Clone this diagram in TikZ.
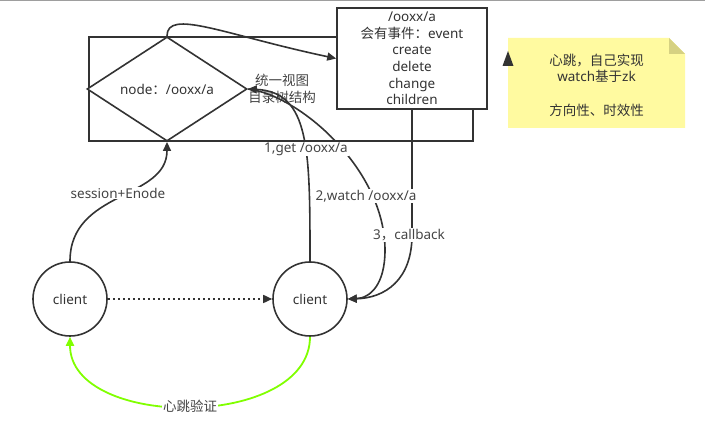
\documentclass[tikz,border=0pt]{standalone}
\usepackage{fontspec}
\setmainfont{Noto Sans}
\newfontfamily\cjk{Noto Sans CJK SC}
\usetikzlibrary{shapes.geometric,arrows.meta}
\definecolor{ln}{HTML}{333333}
\definecolor{lbltext}{HTML}{444444}
\definecolor{hb}{HTML}{80FF00}
\definecolor{notefill}{HTML}{FFFAA0}
\definecolor{notefold}{HTML}{D6D182}
\tikzset{
  shp/.style={draw=ln, line width=1.6pt, text=ln},
  edge/.style={draw=ln, line width=1.6pt, -{Triangle[length=9pt,width=8pt]}},
  lbl/.style={fill=white, inner sep=1pt, text=lbltext},
  cjkfont/.style={font=\fontsize{13.5}{16.7}\selectfont\cjk},
}
\begin{document}
\begin{tikzpicture}[x=1pt,y=-1pt,font=\fontsize{13.5}{16.7}\selectfont]
\useasboundingbox (0,0) rectangle (705,435);
\draw[black!38, line width=1.5pt] (0,0.75) -- (705,0.75);

% group rectangle
\node[shp, minimum width=384pt, minimum height=104pt, inner sep=0pt] (grp) at (281,89) {};

% view label
\node[text=lbltext, align=center, inner sep=0pt, cjkfont] (viewlbl) at (282,89) {统一视图\\目录树结构};

% event box
\node[shp, fill=white, minimum width=150pt, minimum height=101pt, inner sep=0pt, align=center] (box) at (412,58.5)
  {/ooxx/a\\{\cjk 会有事件：}event\\create\\delete\\change\\children};

% diamond
\node[shp, diamond, fill=white, minimum width=160pt, minimum height=66pt, inner sep=0pt] (dia) at (167,89)
  {node{\cjk ：}/ooxx/a};

% clients
\node[shp, circle, fill=white, minimum size=74pt, inner sep=0pt] (c1) at (70,299) {client};
\node[shp, circle, fill=white, minimum size=74pt, inner sep=0pt] (c2) at (310,299) {client};

% note
\fill[notefill] (508,38) -- (669,38) -- (685,54) -- (685,128) -- (508,128) -- cycle;
\fill[notefold] (669,38) -- (669,54) -- (685,54) -- cycle;
\node[text=ln, align=center, inner sep=0pt] (note) at (596.5,85)
  {{\cjk 心跳，自己实现}\\watch{\cjk 基于}zk\\[16.7pt]{\cjk 方向性、时效性}};
\fill[ln] (502.5,66) -- (508,51) -- (513.5,66) -- cycle;

% edges
\draw[edge] (dia.north) .. controls (167,8) and (225,35) .. (box.west);
\draw[edge] (c1.north) .. controls (70,190) and (167,200) .. (dia.south);
\draw[edge] (c2.north) .. controls (310,150) and (310,92) .. (dia.east);
\draw[edge] (dia.east) .. controls (300,95) and (385,170) .. (385,250)
  .. controls (385,285) and (370,298) .. (c2.east);
\draw[edge] (box.south) -- (412,235) .. controls (412,280) and (385,298) .. (c2.east);
\draw[edge, dash pattern=on 2.5pt off 2.5pt] (c1.east) -- (c2.west);
\draw[edge, draw=hb, line width=1.8pt] (c2.south) .. controls (310,430) and (70,430) .. (c1.south)
  node[pos=0.5, lbl, cjkfont] (hblbl) {心跳验证};

% labels
\node[lbl] (getlbl) at (306,149) {1,get /ooxx/a};
\node[lbl] (watchlbl) at (366,196) {2,watch /ooxx/a};
\node[lbl] (cblbl) at (409,235) {3{\cjk ，}callback};
\node[lbl] (sesslbl) at (118,193) {session+Enode};
\end{tikzpicture}
\end{document}
